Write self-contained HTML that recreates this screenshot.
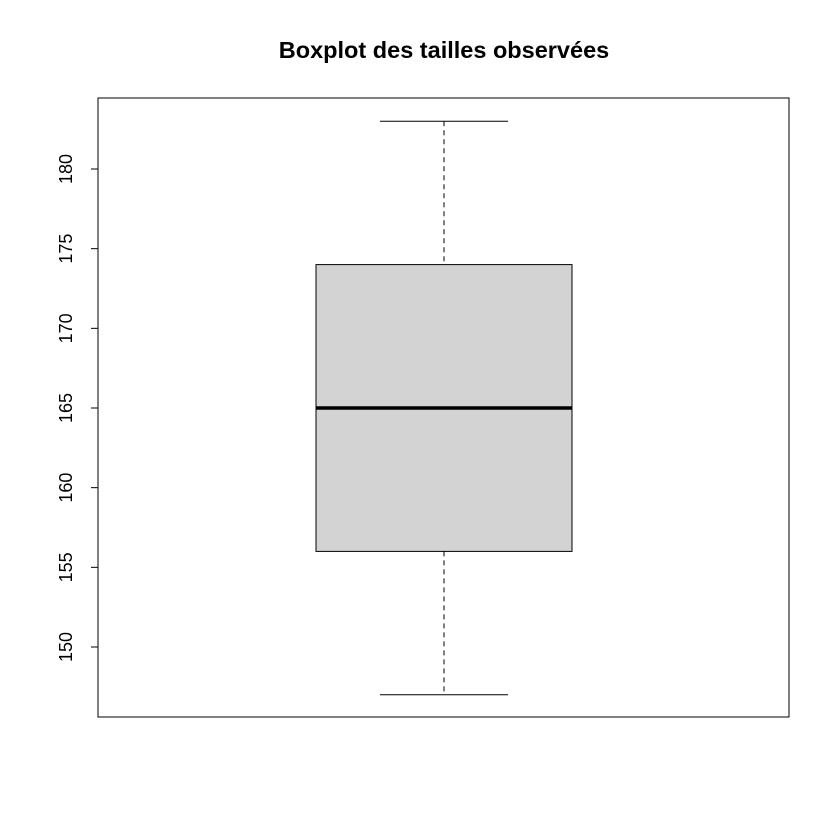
<!DOCTYPE html>
<html><head><meta charset="utf-8"><style>
html,body{margin:0;padding:0;background:#fff;}
svg{display:block;font-family:"Liberation Sans",Arial,sans-serif;}
</style></head><body>
<svg id="chart" width="840" height="840" viewBox="0 0 840 840">
<rect width="840" height="840" fill="#fff"/>
<text x="444" y="58" text-anchor="middle" font-size="23.5" font-weight="bold">Boxplot des tailles observées</text>
<rect x="98" y="98" width="691" height="619" fill="none" stroke="#000" stroke-width="1"/>
<g id="axis"></g>
<g id="box"></g>
</svg>
<script>
const yTicks = [150, 155, 160, 165, 170, 175, 180];
const stats = [147, 156, 165, 174, 183]; // min, q1, median, q3, max
const ns = "http://www.w3.org/2000/svg";
function y(v){ return 647 + (v - 150) * (169 - 647) / 30; }
function mk(tag, attrs, parent){ const e=document.createElementNS(ns,tag); for(const k in attrs) e.setAttribute(k,attrs[k]); parent.appendChild(e); return e; }
const axis=document.getElementById('axis');
let l=mk('line',{x1:98,x2:98,y1:y(yTicks[0]),y2:y(yTicks[yTicks.length-1]),stroke:'#000'},axis);


yTicks.forEach(t=>{
  const tk=mk('line',{x1:91,x2:98,y1:y(t),y2:y(t),stroke:'#000'},axis);
  
  
  const tx=mk('text',{x:0,y:0,transform:`translate(72,${y(t)}) rotate(-90)`,'text-anchor':'middle','font-size':'18'},axis);
  tx.textContent=t;
  
  
});
const g=document.getElementById('box');
const cx=444, bx0=316, bx1=572, c0=380, c1=508;
let e;
e=mk('line',{x1:cx,x2:cx,y1:y(stats[4]),y2:y(stats[3]),stroke:'#000','stroke-dasharray':'5,4'},g);


e=mk('line',{x1:cx,x2:cx,y1:y(stats[1]),y2:y(stats[0]),stroke:'#000','stroke-dasharray':'5,4'},g);


e=mk('line',{x1:c0,x2:c1,y1:y(stats[4]),y2:y(stats[4]),stroke:'#000'},g);


e=mk('line',{x1:c0,x2:c1,y1:y(stats[0]),y2:y(stats[0]),stroke:'#000'},g);


e=mk('rect',{x:bx0,y:y(stats[3]),width:bx1-bx0,height:y(stats[1])-y(stats[3]),fill:'#d3d3d3',stroke:'#000'},g);


e=mk('line',{x1:bx0,x2:bx1,y1:y(stats[2]),y2:y(stats[2]),stroke:'#000','stroke-width':3.5},g);


</script>
</body></html>
